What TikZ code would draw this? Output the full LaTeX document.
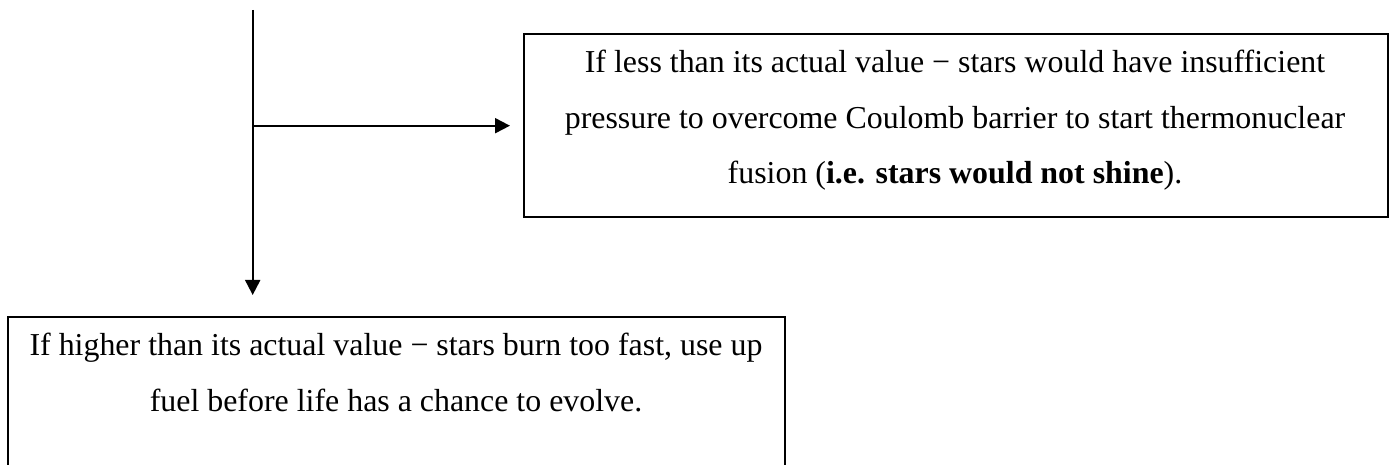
\documentclass[tikz,border=0pt]{standalone}
\usepackage{fontspec}
\setmainfont{Liberation Serif}
\usetikzlibrary{arrows.meta}
\tikzset{
  conn/.style={line width=2pt, -{Triangle[length=15pt,width=15pt]}},
  plain/.style={line width=2pt},
  boxframe/.style={draw, line width=2pt, inner sep=0pt, anchor=north west},
  boxtext/.style={align=center, inner sep=0pt, anchor=base, font=\fontsize{31.9}{55.5}\selectfont}
}
\begin{document}
\begin{tikzpicture}[x=1pt,y=-1pt]
\clip (0,0) rectangle (1393,465);
\useasboundingbox (0,0) rectangle (1393,465);
\fill[white] (0,0) rectangle (1393,465);
% boxes
\node[boxframe, minimum width=864.3pt, minimum height=182.7pt] (rbox) at (522.7,33.3) {};
\node[boxtext] (rtext) at (955,184) {If less than its actual value \textminus{} stars would have insufficient\\pressure to overcome Coulomb barrier to start thermonuclear\\fusion (\textbf{i.e. stars would not shine}).};
\node[boxframe, minimum width=777pt, minimum height=200pt] (bbox) at (7,316) {};
\node[boxtext] (btext) at (396,411) {If higher than its actual value \textminus{} stars burn too fast, use up\\fuel before life has a chance to evolve.};
% connectors
\coordinate (top) at (252.7,10);
\coordinate (junc) at (252.7,125.7);
\coordinate (rend) at (510,125.7);
\coordinate (bend) at (252.7,295);
\draw[plain] (top) -- (junc);
\draw[conn] (junc) -- (bend);
\draw[conn] (junc) -- (rend);
\end{tikzpicture}
\end{document}
